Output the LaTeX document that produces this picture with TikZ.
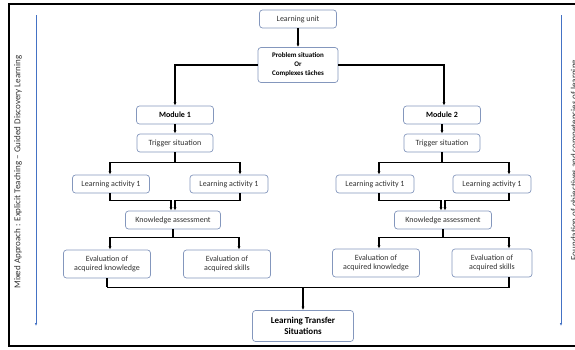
\documentclass[tikz,border=0pt]{standalone}
\usepackage{fontspec}
\setmainfont{Carlito}
\usetikzlibrary{arrows.meta,positioning}
\definecolor{boxline}{RGB}{132,151,189}
\definecolor{boxtext}{RGB}{50,50,50}
\definecolor{sideblue}{RGB}{68,114,196}
\tikzset{
  box/.style={draw=boxline, line width=0.7pt, rounded corners=3pt, fill=white, text=boxtext,
    font=\fontsize{8}{9.5}\selectfont, minimum height=18pt, inner sep=1pt, align=center},
  boldbox/.style={box, text=black, font=\bfseries\fontsize{8}{9.5}\selectfont},
  arr/.style={-{Latex[length=3.5pt,width=3pt]}, line width=1.1pt},
  lnk/.style={line width=1.1pt},
  side/.style={sideblue, line width=0.8pt, -{Latex[length=3pt,width=2.5pt]}},
  sidetxt/.style={rotate=90, text=boxtext, font=\fontsize{9}{10}\selectfont}
}

\begin{document}
\begin{tikzpicture}[x=1pt,y=-1pt]
\useasboundingbox (0,0) rectangle (575,349);
\draw[line width=1.2pt] (9,4) rectangle (590,346);

\coordinate (ltop) at (36,15);
\coordinate (lbot) at (36,326);
\coordinate (rtop) at (561,15);
\coordinate (rbot) at (561,326);
\draw[side] (ltop) -- (lbot);
\draw[side] (rtop) -- (rbot);
\node[sidetxt] (lefttxt) at (18,172) {Mixed Approach : Explicit Teaching – Guided Discovery Learning};
\node[sidetxt, anchor=base] (righttxt) at (577,160) {Foundation of objectives and competencies of learning};

\node[box, minimum width=77pt] (unit) at (298,19) {Learning unit};
\node[boldbox, minimum width=80pt, minimum height=35pt, font=\bfseries\fontsize{7}{9}\selectfont] (prob) at (298,65) {Problem situation\\Or\\Complexes tâches};

\node[boldbox, minimum width=77pt] (mod1) at (175,115) {Module 1};
\node[box, minimum width=76pt] (trig1) at (175,143) {Trigger situation};
\node[box, minimum width=77pt] (act11) at (111,184) {Learning activity 1};
\node[box, minimum width=78pt] (act12) at (229,184) {Learning activity 1};
\node[box, minimum width=95pt] (assess1) at (173,220) {Knowledge assessment};
\node[box, minimum width=87pt, minimum height=28pt] (evk1) at (107,264) {Evaluation of\\acquired knowledge};
\node[box, minimum width=87pt, minimum height=28pt] (evs1) at (227,264) {Evaluation of\\acquired skills};

\node[boldbox, minimum width=77pt] (mod2) at (442,115) {Module 2};
\node[box, minimum width=76pt] (trig2) at (442,143) {Trigger situation};
\node[box, minimum width=78pt] (act21) at (375,184) {Learning activity 1};
\node[box, minimum width=78pt] (act22) at (492,184) {Learning activity 1};
\node[box, minimum width=97pt] (assess2) at (443,220) {Knowledge assessment};
\node[box, minimum width=87pt, minimum height=28pt] (evk2) at (376,263) {Evaluation of\\acquired knowledge};
\node[box, minimum width=80pt, minimum height=28pt] (evs2) at (492,263) {Evaluation of\\acquired skills};

\node[boldbox, minimum width=101pt, minimum height=31pt, font=\bfseries\fontsize{9}{11}\selectfont] (lts) at (303,326) {Learning Transfer\\Situations};

\draw[arr] (unit) -- (prob);
\draw[arr] (prob.west) -| (mod1.north);
\draw[arr] (prob.east) -| ([xshift=2]mod2.north);
\draw[arr] (mod1) -- (trig1);
\draw[arr] (mod2) -- (trig2);

\foreach \i/\sa/\sb/\sc/\sd in {1/-1/11/3/12, 2/4/17/3/17} {
  \draw[lnk] (trig\i.south) -- ++(0,10) coordinate (t\i);
  \draw[arr] (t\i) -| ([xshift=\sa]act\i1.north);
  \draw[arr] (t\i) -| ([xshift=\sb]act\i2.north);
  \draw[arr] ([xshift=\sa]act\i1.south) |- ([xshift=-2,yshift=10]assess\i.north) -- ([xshift=-2]assess\i.north);
  \draw[arr] ([xshift=\sb]act\i2.south) |- ([xshift=2,yshift=10]assess\i.north) -- ([xshift=2]assess\i.north);
  \draw[lnk] (assess\i.south) -- ++(0,8) coordinate (k\i);
  \draw[arr] (k\i) -| ([xshift=\sc]evk\i.north);
  \draw[arr] (k\i) -| ([xshift=\sd]evs\i.north);
}

\draw[lnk] (evk1.south) -- ++(0,9) coordinate (e1);
\draw[lnk] ([xshift=17]evs2.south) |- (e1);
\draw[arr] (e1 -| lts) -- (lts);
\end{tikzpicture}
\end{document}
